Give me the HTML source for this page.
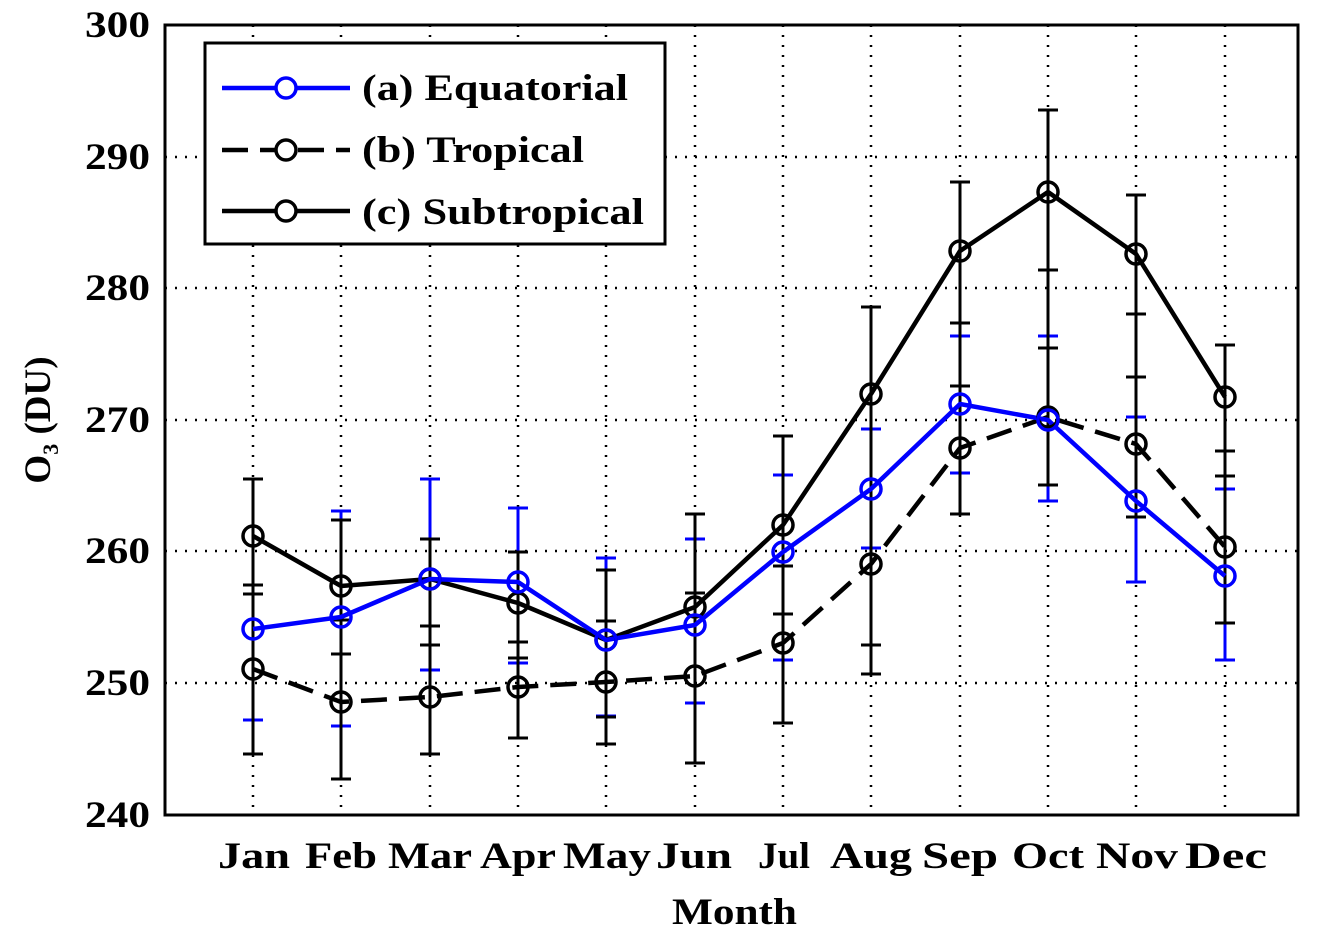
<!DOCTYPE html>
<html><head><style>body{margin:0;background:#fff}</style></head><body>
<svg width="1325" height="938" xmlns="http://www.w3.org/2000/svg" font-family="Liberation Serif, serif" font-weight="bold">
<rect width="1325" height="938" fill="#fff"/>
<g stroke="#000" stroke-width="2.5" stroke-dasharray="2,8">
<line x1="165" y1="157" x2="1298" y2="157"/><line x1="165" y1="288" x2="1298" y2="288"/><line x1="165" y1="420" x2="1298" y2="420"/><line x1="165" y1="551" x2="1298" y2="551"/><line x1="165" y1="683" x2="1298" y2="683"/>
<line x1="253" y1="25" x2="253" y2="815"/><line x1="341" y1="25" x2="341" y2="815"/><line x1="430" y1="25" x2="430" y2="815"/><line x1="518" y1="25" x2="518" y2="815"/><line x1="606" y1="25" x2="606" y2="815"/><line x1="695" y1="25" x2="695" y2="815"/><line x1="783" y1="25" x2="783" y2="815"/><line x1="871" y1="25" x2="871" y2="815"/><line x1="960" y1="25" x2="960" y2="815"/><line x1="1048" y1="25" x2="1048" y2="815"/><line x1="1136" y1="25" x2="1136" y2="815"/><line x1="1225" y1="25" x2="1225" y2="815"/>
</g>
<rect x="165" y="25" width="1133" height="790" fill="none" stroke="#000" stroke-width="3"/>
<g font-size="37" text-anchor="end" lengthAdjust="spacingAndGlyphs">
<text x="150" y="37" textLength="65" lengthAdjust="spacingAndGlyphs">300</text><text x="150" y="169" textLength="65" lengthAdjust="spacingAndGlyphs">290</text><text x="150" y="300" textLength="65" lengthAdjust="spacingAndGlyphs">280</text><text x="150" y="432" textLength="65" lengthAdjust="spacingAndGlyphs">270</text><text x="150" y="563" textLength="65" lengthAdjust="spacingAndGlyphs">260</text><text x="150" y="695" textLength="65" lengthAdjust="spacingAndGlyphs">250</text><text x="150" y="827" textLength="65" lengthAdjust="spacingAndGlyphs">240</text>
</g>
<g font-size="37">
<text x="218" y="868" textLength="72" lengthAdjust="spacingAndGlyphs">Jan</text>
<text x="305" y="868" textLength="72" lengthAdjust="spacingAndGlyphs">Feb</text>
<text x="388" y="868" textLength="84" lengthAdjust="spacingAndGlyphs">Mar</text>
<text x="480" y="868" textLength="76" lengthAdjust="spacingAndGlyphs">Apr</text>
<text x="563" y="868" textLength="88" lengthAdjust="spacingAndGlyphs">May</text>
<text x="656" y="868" textLength="76" lengthAdjust="spacingAndGlyphs">Jun</text>
<text x="758" y="868" textLength="52" lengthAdjust="spacingAndGlyphs">Jul</text>
<text x="830" y="868" textLength="82" lengthAdjust="spacingAndGlyphs">Aug</text>
<text x="922" y="868" textLength="76" lengthAdjust="spacingAndGlyphs">Sep</text>
<text x="1012" y="868" textLength="72" lengthAdjust="spacingAndGlyphs">Oct</text>
<text x="1096" y="868" textLength="82" lengthAdjust="spacingAndGlyphs">Nov</text>
<text x="1185" y="868" textLength="82" lengthAdjust="spacingAndGlyphs">Dec</text>
<text x="672" y="924" textLength="125" lengthAdjust="spacingAndGlyphs">Month</text>
</g>
<text transform="translate(50,420) rotate(-90)" font-size="37" text-anchor="middle">O<tspan font-size="22" dy="8">3</tspan><tspan dy="-8"> (DU)</tspan></text>
<!-- blue error bars -->
<g stroke="#00f" stroke-width="3">
<path d="M253 542V720M243 720h20 M341 511V726M331 511h20M331 726h20 M430 479V670M420 479h20M420 670h20 M518 508V663M508 508h20M508 663h20 M606 558V716M596 558h20M596 716h20 M695 539V703M685 539h20M685 703h20 M783 475V660M773 475h20M773 660h20 M871 429V548M861 429h20M861 548h20 M960 336V473M950 336h20M950 473h20 M1048 336V501M1038 336h20M1038 501h20 M1136 417V582M1126 417h20M1126 582h20 M1225 489V660M1215 489h20M1215 660h20"/>
</g>
<!-- black error bars -->
<g stroke="#000" stroke-width="3">
<path d="M253 479V754M243 479h20M243 585h20M243 594h20M243 754h20
M341 520V779M331 520h20M331 620h20M331 654h20M331 779h20
M430 539V754M420 539h20M420 626h20M420 645h20M420 754h20
M518 552V738M508 552h20M508 642h20M508 658h20M508 738h20
M606 570V744M596 570h20M596 621h20M596 717h20M596 744h20
M695 514V763M685 514h20M685 593h20M685 763h20
M783 436V723M773 436h20M773 566h20M773 614h20M773 723h20
M871 307V674M861 307h20M861 645h20M861 674h20
M960 182V514M950 182h20M950 323h20M950 386h20M950 514h20
M1048 110V485M1038 110h20M1038 270h20M1038 348h20M1038 485h20
M1136 195V517M1126 195h20M1126 314h20M1126 377h20M1126 517h20
M1225 345V623M1215 345h20M1215 451h20M1215 476h20M1215 623h20"/>
</g>
<g fill="none" stroke-width="4.5" stroke-linejoin="round">
<polyline stroke="#000" points="253,536 341,586 430,579 518,603 606,640 695,607 783,525 871,394 960,251 1048,192 1136,254 1225,397"/>
<polyline stroke="#000" stroke-dasharray="26,12" points="253,669 341,702 430,697 518,687 606,682 695,676 783,643 871,564 960,448 1048,417 1136,444 1225,547"/>
<polyline stroke="#00f" points="253,629 341,617 430,579 518,582 606,640 695,625 783,552 871,489 960,404 1048,420 1136,501 1225,576"/>
</g>
<g fill="none" stroke="#000" stroke-width="3.5">
<circle cx="253" cy="536" r="10"/><circle cx="341" cy="586" r="10"/><circle cx="430" cy="579" r="10"/><circle cx="518" cy="603" r="10"/><circle cx="606" cy="640" r="10"/><circle cx="695" cy="607" r="10"/><circle cx="783" cy="525" r="10"/><circle cx="871" cy="394" r="10"/><circle cx="960" cy="251" r="10"/><circle cx="1048" cy="192" r="10"/><circle cx="1136" cy="254" r="10"/><circle cx="1225" cy="397" r="10"/>
<circle cx="253" cy="669" r="10"/><circle cx="341" cy="702" r="10"/><circle cx="430" cy="697" r="10"/><circle cx="518" cy="687" r="10"/><circle cx="606" cy="682" r="10"/><circle cx="695" cy="676" r="10"/><circle cx="783" cy="643" r="10"/><circle cx="871" cy="564" r="10"/><circle cx="960" cy="448" r="10"/><circle cx="1048" cy="417" r="10"/><circle cx="1136" cy="444" r="10"/><circle cx="1225" cy="547" r="10"/>
</g>
<g fill="none" stroke="#00f" stroke-width="3.5">
<circle cx="253" cy="629" r="10"/><circle cx="341" cy="617" r="10"/><circle cx="430" cy="579" r="10"/><circle cx="518" cy="582" r="10"/><circle cx="606" cy="640" r="10"/><circle cx="695" cy="625" r="10"/><circle cx="783" cy="552" r="10"/><circle cx="871" cy="489" r="10"/><circle cx="960" cy="404" r="10"/><circle cx="1048" cy="420" r="10"/><circle cx="1136" cy="501" r="10"/><circle cx="1225" cy="576" r="10"/>
</g>
<!-- legend -->
<rect x="205" y="43" width="460" height="201" fill="#fff" stroke="#000" stroke-width="3"/>
<line x1="222" y1="88" x2="350" y2="88" stroke="#00f" stroke-width="4.5"/><circle cx="286" cy="88" r="10" fill="#fff" stroke="#00f" stroke-width="3.5"/>
<line x1="222" y1="150" x2="350" y2="150" stroke="#000" stroke-width="4.5" stroke-dasharray="26,12"/><circle cx="286" cy="150" r="10" fill="#fff" stroke="#000" stroke-width="3.5"/>
<line x1="222" y1="211" x2="350" y2="211" stroke="#000" stroke-width="4.5"/><circle cx="286" cy="211" r="10" fill="#fff" stroke="#000" stroke-width="3.5"/>
<g font-size="37">
<text x="362" y="100" textLength="266" lengthAdjust="spacingAndGlyphs">(a) Equatorial</text>
<text x="362" y="162" textLength="222" lengthAdjust="spacingAndGlyphs">(b) Tropical</text>
<text x="362" y="224" textLength="282" lengthAdjust="spacingAndGlyphs">(c) Subtropical</text>
</g>
</svg>
</body></html>
